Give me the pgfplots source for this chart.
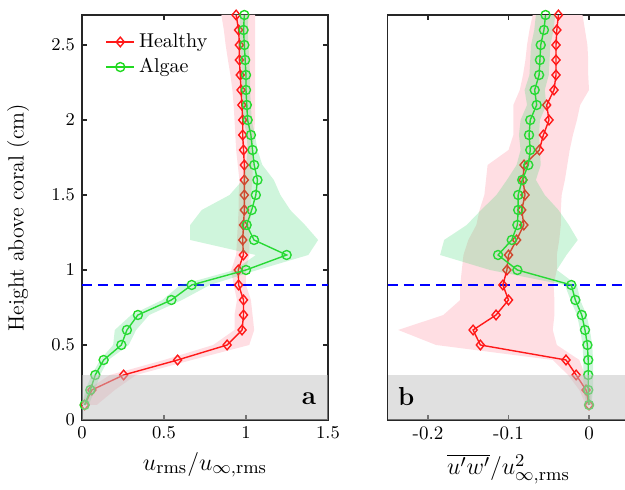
\documentclass[border=0pt]{standalone}
\usepackage{pgfplots}
\pgfplotsset{compat=1.18}
\definecolor{hred}{rgb}{1,0.1,0.1}
\definecolor{agreen}{rgb}{0.13,0.85,0.13}
\definecolor{rband}{rgb}{1,0.87,0.89}
\definecolor{gband}{rgb}{0.25,0.85,0.45}
\definecolor{patchgray}{rgb}{0.756,0.756,0.756}
\definecolor{axgray}{rgb}{0.15,0.15,0.15}
\pgfplotsset{
  panel/.style={
    scale only axis, height=202.5pt, ymin=0, ymax=2.7,
    axis line style={axgray, line width=0.6pt},
    tick style={axgray, line width=0.6pt},
    major tick length=2.5pt,
    tick align=inside,
    ticklabel style={font=\fontsize{9.5}{11}\selectfont},
    clip mode=individual,
    xlabel style={font=\fontsize{13}{15}\selectfont},
  },
  hstyle/.style={hred, line width=0.7pt, mark=diamond, mark size=2.4pt, mark options={solid, fill=none, xscale=1.12}},
  astyle/.style={agreen, line width=0.7pt, mark=o, mark size=2.25pt, mark options={solid}},
  bandR/.style={fill=rband, draw=none, forget plot},
  bandG/.style={fill=gband, fill opacity=0.25, draw=none, forget plot},
  grayp/.style={fill=patchgray, fill opacity=0.5, draw=none, forget plot},
  blued/.style={blue, line width=0.75pt, dash pattern=on 5pt off 3pt, forget plot},
}
\begin{document}
\begin{tikzpicture}
\begin{axis}[panel, name=L, width=123pt, xmin=0, xmax=1.5,
  xtick={0,0.5,1,1.5}, ytick={0,0.5,1,1.5,2,2.5},
  xlabel={$u_{\mathrm{rms}}/u_{\infty,\mathrm{rms}}$},
  ylabel={Height above coral (cm)},
  ylabel style={font=\fontsize{11}{13}\selectfont, at={(axis description cs:-0.26,0.5)}, anchor=center},
  legend style={at={(axis description cs:0.07,0.975)}, anchor=north west, draw=none, fill=none, font=\fontsize{10}{12}\selectfont},
  legend cell align=left,
  legend image code/.code={\draw[mark repeat=2,mark phase=2] plot coordinates {(0pt,0pt)(7pt,0pt)(14pt,0pt)};},
]
% red band
\addplot[bandR] coordinates {
(0.00,0.1)(0.03,0.2)(0.17,0.3)(0.50,0.4)(0.80,0.5)(0.93,0.6)(0.93,0.7)(0.945,0.8)(0.925,0.9)(0.91,1.0)(0.94,1.1)(0.945,1.2)(0.95,1.3)(0.955,1.4)(0.955,1.5)(0.96,1.6)(0.95,1.7)(0.94,1.8)(0.935,1.9)(0.93,2.0)(0.925,2.1)(0.917,2.2)(0.905,2.3)(0.89,2.4)(0.876,2.5)(0.865,2.6)(0.85,2.7)
(1.055,2.7)(1.055,2.6)(1.055,2.5)(1.055,2.4)(1.055,2.3)(1.055,2.2)(1.055,2.1)(1.055,2.0)(1.05,1.9)(1.04,1.8)(1.04,1.7)(1.04,1.6)(1.03,1.5)(1.03,1.4)(1.025,1.3)(1.02,1.2)(1.02,1.1)(1.0,1.0)(1.0,0.9)(1.03,0.8)(1.04,0.7)(1.05,0.6)(1.02,0.5)(0.67,0.4)(0.33,0.3)(0.20,0.2)(0.09,0.1)
} -- cycle;
\addplot[blued] coordinates {(0,0.9)(1.5,0.9)};
\addplot[hstyle] coordinates {
(0.016,0.1)(0.06,0.2)(0.254,0.3)(0.583,0.4)(0.885,0.5)(0.976,0.6)(0.985,0.7)(0.985,0.8)(0.955,0.9)(0.953,1.0)(0.984,1.1)(0.98,1.2)(0.985,1.3)(0.99,1.4)(0.99,1.5)(0.99,1.6)(0.99,1.7)(0.985,1.8)(0.98,1.9)(0.98,2.0)(0.975,2.1)(0.97,2.2)(0.965,2.3)(0.96,2.4)(0.96,2.5)(0.955,2.6)(0.94,2.7)
};
\addlegendentry{Healthy}
\addplot[astyle] coordinates {
(0.016,0.1)(0.051,0.2)(0.081,0.3)(0.132,0.4)(0.24,0.5)(0.274,0.6)(0.341,0.7)(0.545,0.8)(0.669,0.9)(1.0,1.0)(1.248,1.1)(1.049,1.2)(1.004,1.3)(1.035,1.4)(1.06,1.5)(1.07,1.6)(1.05,1.7)(1.04,1.8)(1.03,1.9)(1.01,2.0)(1.005,2.1)(1.0,2.2)(1.0,2.3)(0.995,2.4)(0.99,2.5)(0.985,2.6)(0.99,2.7)
};
\addlegendentry{Algae}
% green band
\addplot[bandG] coordinates {
(0.0,0.1)(0.02,0.2)(0.06,0.3)(0.11,0.4)(0.19,0.5)(0.20,0.6)(0.30,0.7)(0.49,0.8)(0.60,0.9)(0.93,1.0)(1.06,1.1)(0.66,1.2)(0.66,1.3)(0.73,1.4)(0.90,1.5)(0.98,1.6)(1.0,1.7)(1.01,1.8)(1.005,1.9)(0.985,2.0)(0.98,2.1)(0.975,2.2)(0.975,2.3)(0.97,2.4)(0.965,2.5)(0.96,2.6)(0.965,2.7)
(1.015,2.7)(1.01,2.6)(1.015,2.5)(1.02,2.4)(1.025,2.3)(1.025,2.2)(1.03,2.1)(1.035,2.0)(1.055,1.9)(1.07,1.8)(1.10,1.7)(1.17,1.6)(1.21,1.5)(1.27,1.4)(1.36,1.3)(1.44,1.2)(1.38,1.1)(1.07,1.0)(0.78,0.9)(0.61,0.8)(0.41,0.7)(0.33,0.6)(0.285,0.5)(0.16,0.4)(0.11,0.3)(0.08,0.2)(0.04,0.1)
} -- cycle;
\addplot[grayp] coordinates {(0,0)(1.5,0)(1.5,0.3)(0,0.3)} -- cycle;
\node[font=\fontsize{13}{15}\selectfont\bfseries] at (axis cs:1.384,0.14) {a};
\coordinate (bbsw) at (axis cs:-0.5,-0.4667);
\end{axis}
\begin{axis}[panel, name=R, at={(L.south east)}, anchor=south west, xshift=29.9pt,
  width=120.75pt, xmin=-0.25, xmax=0.05,
  xtick={-0.2,-0.1,0}, xticklabels={-0.2,-0.1,0}, ytick=\empty,
  xlabel={$\overline{u'w'}/u^2_{\infty,\mathrm{rms}}$},
]
\addplot[bandR] coordinates {
(-0.004,0.1)(-0.012,0.2)(-0.026,0.3)(-0.045,0.4)(-0.19,0.5)(-0.237,0.6)(-0.181,0.7)(-0.160,0.8)(-0.160,0.9)(-0.158,1.0)(-0.156,1.1)(-0.150,1.2)(-0.140,1.3)(-0.136,1.4)(-0.130,1.5)(-0.128,1.6)(-0.126,1.7)(-0.100,1.8)(-0.094,1.9)(-0.094,2.0)(-0.094,2.1)(-0.086,2.2)(-0.082,2.3)(-0.079,2.4)(-0.077,2.5)(-0.074,2.6)(-0.070,2.7)
(-0.008,2.7)(-0.005,2.6)(-0.002,2.5)(-0.001,2.4)(-0.001,2.3)(0.0,2.2)(-0.011,2.1)(-0.015,2.0)(-0.020,1.9)(-0.024,1.8)(-0.027,1.7)(-0.030,1.6)(-0.034,1.5)(-0.035,1.4)(-0.035,1.3)(-0.037,1.2)(-0.040,1.1)(-0.040,1.0)(-0.044,0.9)(-0.043,0.8)(-0.043,0.7)(-0.045,0.6)(-0.040,0.5)(-0.012,0.4)(-0.005,0.3)(0.003,0.2)(0.003,0.1)
} -- cycle;
\addplot[blued] coordinates {(-0.25,0.9)(0.05,0.9)};
\addplot[hstyle] coordinates {
(0.0,0.1)(-0.0037,0.2)(-0.016,0.3)(-0.0286,0.4)(-0.135,0.5)(-0.144,0.6)(-0.1155,0.7)(-0.100,0.8)(-0.107,0.9)(-0.102,1.0)(-0.100,1.1)(-0.090,1.2)(-0.081,1.3)(-0.0836,1.4)(-0.0795,1.5)(-0.082,1.6)(-0.0807,1.7)(-0.0617,1.8)(-0.0567,1.9)(-0.0497,2.0)(-0.0526,2.1)(-0.0435,2.2)(-0.041,2.3)(-0.041,2.4)(-0.041,2.5)(-0.040,2.6)(-0.038,2.7)
};
\addplot[astyle] coordinates {
(0.0,0.1)(-0.001,0.2)(-0.001,0.3)(-0.001,0.4)(-0.002,0.5)(-0.005,0.6)(-0.009,0.7)(-0.017,0.8)(-0.022,0.9)(-0.089,1.0)(-0.113,1.1)(-0.096,1.2)(-0.089,1.3)(-0.088,1.4)(-0.088,1.5)(-0.083,1.6)(-0.0754,1.7)(-0.073,1.8)(-0.0745,1.9)(-0.073,2.0)(-0.065,2.1)(-0.0675,2.2)(-0.062,2.3)(-0.061,2.4)(-0.060,2.5)(-0.056,2.6)(-0.054,2.7)
};
\addplot[bandG] coordinates {
(-0.003,0.1)(-0.007,0.2)(-0.007,0.3)(-0.007,0.4)(-0.008,0.5)(-0.011,0.6)(-0.015,0.7)(-0.023,0.8)(-0.030,0.9)(-0.123,1.0)(-0.185,1.1)(-0.180,1.2)(-0.152,1.3)(-0.134,1.4)(-0.115,1.5)(-0.102,1.6)(-0.090,1.7)(-0.085,1.8)(-0.087,1.9)(-0.085,2.0)(-0.077,2.1)(-0.080,2.2)(-0.074,2.3)(-0.073,2.4)(-0.072,2.5)(-0.068,2.6)(-0.066,2.7)
(-0.042,2.7)(-0.044,2.6)(-0.048,2.5)(-0.049,2.4)(-0.050,2.3)(-0.055,2.2)(-0.053,2.1)(-0.061,2.0)(-0.062,1.9)(-0.061,1.8)(-0.060,1.7)(-0.066,1.6)(-0.055,1.5)(-0.038,1.4)(-0.025,1.3)(-0.014,1.2)(-0.028,1.1)(-0.040,1.0)(-0.015,0.9)(-0.011,0.8)(-0.003,0.7)(0.001,0.6)(0.004,0.5)(0.005,0.4)(0.005,0.3)(0.005,0.2)(0.003,0.1)
} -- cycle;
\addplot[grayp] coordinates {(-0.25,0)(0.05,0)(0.05,0.3)(-0.25,0.3)} -- cycle;
\node[font=\fontsize{13}{15}\selectfont\bfseries] at (axis cs:-0.227,0.153) {b};
\coordinate (bbne) at (axis cs:0.0447,2.8);
\end{axis}
\pgfresetboundingbox
\useasboundingbox (bbsw) rectangle (bbne);
\end{tikzpicture}
\end{document}
